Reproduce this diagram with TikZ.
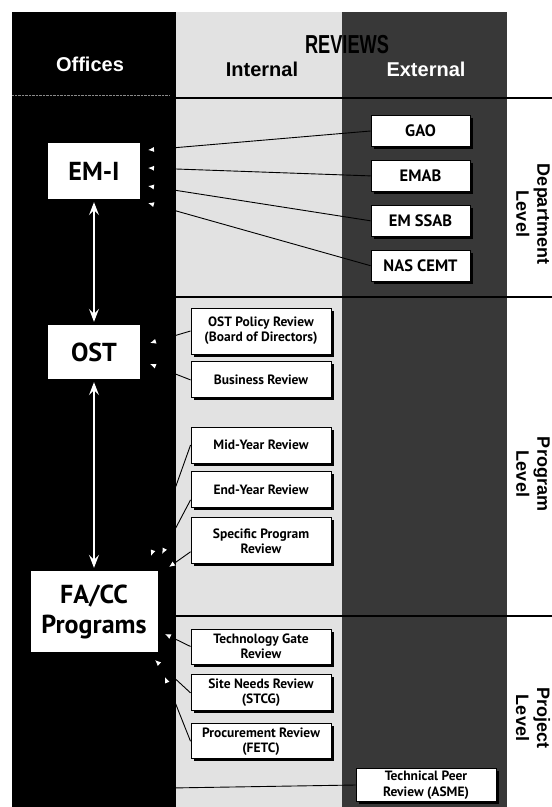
\documentclass[tikz,border=0pt]{standalone}
\usepackage{fontspec}
\setmainfont{Liberation Sans}
\newfontfamily\boxfont{PT Sans}
\usetikzlibrary{arrows.meta,positioning,shadows}
\definecolor{ink}{HTML}{000000}
\definecolor{muted}{HTML}{8A8A8A}
\definecolor{internalbg}{HTML}{E2E2E2}
\definecolor{externalbg}{HTML}{383838}
\tikzset{
  office/.style={fill=white,draw=none,inner sep=2pt,align=center,
                 font=\boxfont\bfseries\fontsize{26}{30}\selectfont},
  review/.style={fill=white,draw=ink,line width=0.9pt,inner sep=2pt,align=center,
                 minimum width=140pt,minimum height=36pt,
                 font=\boxfont\bfseries\fontsize{13.5}{15}\selectfont,
                 drop shadow={shadow xshift=2.5pt,shadow yshift=-2.5pt,fill=ink,opacity=1}},
  extbox/.style={review,minimum width=99pt,minimum height=31pt,
                 font=\boxfont\bfseries\fontsize{16.5}{18}\selectfont},
  head/.style={font=\bfseries\fontsize{20}{22}\selectfont},
  levelnote/.style={rotate=-90,align=center,font=\bfseries\fontsize{18}{21}\selectfont},
  feed/.style={-{Latex[length=6pt,width=5pt,color=white]},line width=0.9pt,draw=ink},
  link/.style={{Stealth[length=13pt,width=10pt,inset=5pt]}-{Stealth[length=13pt,width=10pt,inset=5pt]},
               line width=1.2pt,draw=white,shorten <=3pt,shorten >=3pt},
  divider/.style={line width=1.4pt,draw=ink}
}

\begin{document}
\begin{tikzpicture}[x=1pt,y=1pt,node distance=13pt]
  \useasboundingbox (0,0) rectangle (552,-807);
  % columns
  \fill[ink] (12,-12) rectangle (176,-807);
  \fill[internalbg] (176,-12) rectangle (342,-807);
  \fill[externalbg] (342,-12) rectangle (507,-807);
  \draw[muted,densely dotted] (12,-95) -- (170,-95);
  \draw[divider] (176,-98) -- (552,-98);
  \draw[divider] (176,-297) -- (552,-297);
  \draw[divider] (176,-616) -- (552,-616);

  \node[head,text=white] (offices) at (90,-64) {Offices};
  \node[head] (internal) at (262,-69) {Internal};
  \node[head,text=white] (external) at (426,-69) {External};
  \node[font=\bfseries\fontsize{26}{28}\selectfont,xscale=0.7] (reviews) at (347,-45) {REVIEWS};

  \node[levelnote] (deptlvl) at (533,-214) {Department\\Level};
  \node[levelnote] (proglvl) at (533,-474) {Program\\Level};
  \node[levelnote] (projlvl) at (533,-718) {Project\\Level};

  % offices
  \node[office,minimum width=92pt,minimum height=56pt] (em1) at (94,-171) {EM-I};
  \node[office,minimum width=92pt,minimum height=54pt] (ost) at (94,-352) {OST};
  \node[office,minimum width=127pt,minimum height=81pt] (facc) at (94,-611.5) {FA/CC\\Programs};
  \draw[link] (em1.south) -- (ost.north);
  \draw[link] (ost.south) -- (facc.north);

  % department level
  \node[extbox] (gao) at (420.5,-131) {GAO};
  \node[extbox,below=of gao] (emab) {EMAB};
  \node[extbox,below=of emab] (ssab) {EM SSAB};
  \node[extbox,below=of ssab] (nas) {NAS CEMT};
  \coordinate (em1a) at (148,-150); \coordinate (em1b) at (148,-168);
  \coordinate (em1c) at (148,-186); \coordinate (em1d) at (148,-203);
  \draw[feed] (gao.west) -- (em1a); \draw[feed] (emab.west) -- (em1b);
  \draw[feed] (ssab.west) -- (em1c); \draw[feed] (nas.west) -- (em1d);

  % program level
  \node[review,minimum height=46pt] (opr) at (261,-331) {OST Policy Review\\(Board of Directors)};
  \node[review,below=7pt of opr] (bus) {Business Review};
  \node[review] (mid) at (261,-445) {Mid-Year Review};
  \node[review,below=8pt of mid] (eyr) {End-Year Review};
  \node[review,minimum height=46pt,below=9pt of eyr] (spr) {Specific Program\\Review};
  \coordinate (osta) at (150,-343); \coordinate (ostb) at (150,-364);
  \draw[feed] (opr.west) -- (osta); \draw[feed] (bus.west) -- (ostb);
  \coordinate (faca) at (151,-556); \coordinate (facb) at (162,-554); \coordinate (facd) at (169,-567);
  \draw[feed] (mid.west) -- (faca);
  \draw[feed] ([yshift=-10pt]eyr.west) -- (facb);
  \draw[feed] ([yshift=-11pt]spr.west) -- (facd);

  % project level
  \node[review,minimum height=35pt] (tgr) at (261,-646.5) {Technology Gate\\Review};
  \node[review,below=10pt of tgr] (snr) {Site Needs Review\\(STCG)};
  \node[review,minimum height=35pt,below=12pt of snr] (pcr) {Procurement Review\\(FETC)};
  \node[extbox,minimum width=140pt,minimum height=33pt,
        font=\boxfont\bfseries\fontsize{13.5}{16}\selectfont] (tpr) at (426,-785) {Technical Peer\\Review (ASME)};
  \coordinate (facp) at (165,-634); \coordinate (facq) at (155,-660); \coordinate (facr) at (165,-677);
  \coordinate (tprend) at (170,-788);
  \draw[feed] (tgr.west) -- (facp); \draw[feed] (snr.west) -- (facq); \draw[feed] (pcr.west) -- (facr);
  \draw[line width=0.9pt,draw=ink] (tpr.west) -- (tprend);
\end{tikzpicture}
\end{document}
